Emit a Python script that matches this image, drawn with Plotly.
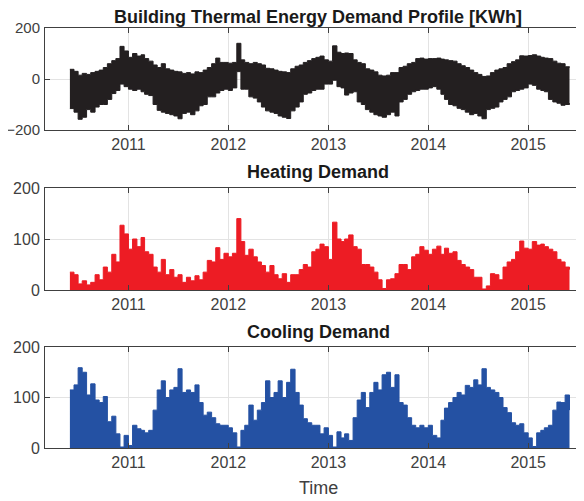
import pandas as pd
import plotly.graph_objs as go
from plotly.subplots import make_subplots

# Half-monthly samples (1st and 16th) from Jun 2010 to Jun 2015
YEARS = ['2010', '2011', '2012', '2013', '2014', '2015']

# Total demand envelope [KWh] (upper and lower edge of the black band)
top_hi = [38, 30, 15, 22, 18, 25, 30, 35, 45, 60, 72, 80, 128, 110,
          85, 100, 90, 95, 80, 70, 55, 45, 60, 40, 35, 30, 28, 22, 25, 20, 28, 25, 35, 45, 60, 82, 65, 65,
          62, 65, 140, 75, 65, 60, 65, 60, 55, 42, 40, 35, 30, 28, 25, 40, 50, 55, 65, 72, 80, 85, 90, 75,
          70, 130, 105, 100, 102, 100, 75, 65, 60, 40, 35, 28, 15, 12, 15, 25, 25, 45, 50, 60, 65, 80, 82, 78,
          80, 80, 82, 78, 75, 72, 70, 60, 52, 45, 35, 25, 18, 10, 12, 25, 35, 40, 45, 60, 68, 75, 91, 90,
          92, 95, 90, 85, 82, 80, 70, 62, 60, 48, 45]
top_lo = [-116, -130, -158, -150, -120, -130, -110, -100, -100, -80, -57, -45, -20, -30,
          -40, -45, -40, -50, -60, -65, -100, -123, -130, -135, -140, -145, -156, -135, -130, -140, -125, -105,
          -100, -70, -70, -55, -45, -40,
          -45, -35, 29, -40, -40, -70, -75, -90, -110, -125, -130, -135, -145, -150, -155, -125, -110, -90,
          -60, -55, -45, -40, -40, -20,
          -20, -5, -30, -35, -63, -55, -50, -90, -100, -120, -130, -140, -145, -150, -140, -130, -145, -90,
          -80, -60, -50, -45, -40, -40,
          -35, -30, -40, -60, -80, -100, -105, -115, -120, -130, -140, -135, -145, -156, -120, -115, -110, -90,
          -80, -70, -50, -45, -40, -35,
          -20, -25, -40, -45, -50, -80, -90, -95, -103, -100, -95]

# Heating demand peaks [KWh]
heating = [35, 30, 12, 18, 10, 15, 30, 20, 45, 35, 70, 55, 127, 110,
           80, 100, 85, 103, 75, 70, 45, 35, 60, 30, 40, 25, 30, 15, 25, 18, 28, 20, 35, 58, 55, 83, 60, 72,
           65, 72, 140, 95, 68, 80, 65, 55, 48, 35, 48, 30, 22, 32, 15, 30, 30, 40, 50, 45, 75, 80, 90, 85,
           60, 133, 100, 95, 100, 108, 85, 80, 50, 50, 45, 35, 20, 3, 20, 22, 32, 50, 50, 40, 65, 70, 85, 78,
           70, 80, 86, 70, 82, 72, 75, 58, 50, 45, 40, 25, 25, 2, 8, 32, 30, 20, 45, 55, 60, 75, 96, 82,
           80, 95, 88, 90, 85, 80, 75, 60, 55, 45, 40]

# Cooling demand peaks [KWh]
cooling = [115, 125, 159, 150, 105, 127, 95, 90, 102, 52, 63, 28, 2, 25,
           5, 45, 38, 35, 30, 35, 75, 115, 133, 100, 115, 120, 157, 110, 115, 110, 125, 90, 65, 71, 60, 48, 45, 45,
           40, 30, 2, 35, 45, 85, 55, 75, 90, 133, 100, 110, 133, 100, 130, 156, 110, 85, 58, 50, 45, 45, 28, 40,
           25, 2, 32, 20, 28, 15, 60, 95, 110, 80, 110, 130, 115, 145, 150, 120, 145, 90, 85, 60, 45, 40, 45, 40,
           45, 25, 20, 55, 79, 90, 100, 110, 105, 124, 120, 135, 125, 157, 120, 115, 110, 100, 80, 70, 50, 45, 48, 30,
           20, 3, 30, 35, 40, 45, 75, 91, 90, 105, 75]

# time stamps: 1st and 16th of every month
dates = []
for m in pd.date_range('2010-06-01', '2015-05-01', freq='MS'):
    dates += [m, m + pd.Timedelta(days=15)]
dates.append(pd.Timestamp('2015-06-01'))

BLACK = '#231F20'
RED = '#ED1C24'
BLUE = '#2451A3'
AXIS = '#404040'
GRID = '#E3E3E3'

# page body has an 8px margin, so the figure is drawn 8px in from the top-left
W, H = 576.0, 493.0
OFF = 8


def px_y(p):
    return 1 - (p - OFF) / H


fig = make_subplots(rows=3, cols=1)

# top: band between lower and upper envelope
fig.add_trace(go.Scatter(x=dates, y=top_hi, mode='lines', line_shape='hv',
                         line=dict(color=BLACK, width=1)), row=1, col=1)
fig.add_trace(go.Scatter(x=dates, y=top_lo, mode='lines', fill='tonexty', line_shape='hv',
                         fillcolor=BLACK, line=dict(color=BLACK, width=1)), row=1, col=1)

fig.add_trace(go.Scatter(x=dates, y=heating, mode='lines', fill='tozeroy', line_shape='hv',
                         fillcolor=RED, line=dict(color=RED, width=1)), row=2, col=1)
fig.add_trace(go.Scatter(x=dates, y=cooling, mode='lines', fill='tozeroy', line_shape='hv',
                         fillcolor=BLUE, line=dict(color=BLUE, width=1)), row=3, col=1)

domains = [(28, 130), (188, 290), (347, 448)]
yticks = [[-200, 0, 200], [0, 100, 200], [0, 100, 200]]
yranges = [[-200, 200], [0, 200], [0, 200]]
yfont = [15, 16, 16]  # top panel slightly smaller so "-200" stays inside the page
for i, (t, b) in enumerate(domains):
    r = i + 1
    fig.update_xaxes(type='date', range=['2010-03-02', '2015-07-24'],
                     tickvals=[f'{y}-01-01' for y in YEARS[1:]],
                     ticktext=YEARS[1:], automargin=False,
                     domain=[(45 - OFF) / W, 1.0],
                     showline=True, linecolor=AXIS, linewidth=1, mirror='ticks',
                     ticks='inside', ticklen=5, tickcolor=AXIS,
                     showgrid=True, gridcolor=GRID, zeroline=False,
                     tickfont=dict(family='Liberation Sans', size=16, color=AXIS),
                     row=r, col=1)
    fig.update_yaxes(range=yranges[i], tickvals=yticks[i], automargin=False,
                     domain=[px_y(b), px_y(t)],
                     showline=True, linecolor=AXIS, linewidth=1,
                     ticks='inside', ticklen=5, tickcolor=AXIS, ticklabelstandoff=1,
                     showgrid=True, gridcolor=GRID, zeroline=False,
                     tickfont=dict(family='Liberation Sans', size=yfont[i], color=AXIS),
                     row=r, col=1)

titles = [('Building Thermal Energy Demand Profile [KWh]', 17),
          ('Heating Demand', 172), ('Cooling Demand', 332)]
for text, yc in titles:
    fig.add_annotation(text=text, x=(318 - OFF) / W, y=px_y(yc), xref='paper', yref='paper',
                       showarrow=False, xanchor='center', yanchor='middle', borderpad=0,
                       font=dict(family='Liberation Sans', size=18, color='#1a1a1a', weight='bold'))
fig.add_annotation(text='Time', x=(318 - OFF) / W, y=px_y(488), xref='paper', yref='paper',
                   showarrow=False, xanchor='center', yanchor='middle',
                   font=dict(family='Liberation Sans', size=18, color=AXIS))

fig.update_layout(width=W, height=H, showlegend=False,
                  plot_bgcolor='white', paper_bgcolor='white',
                  margin=dict(l=0, r=0, t=0, b=0))

fig.write_html("out.html")
